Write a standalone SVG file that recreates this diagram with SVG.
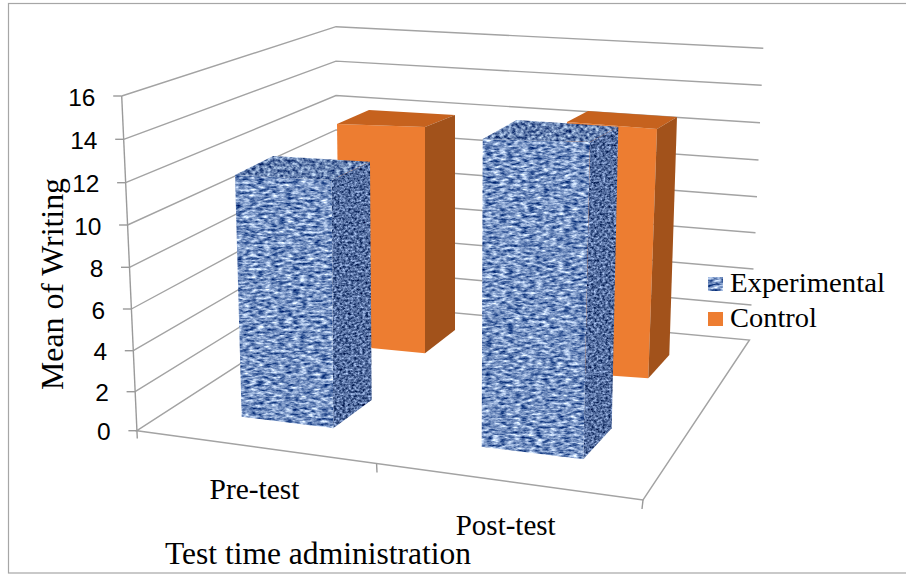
<svg xmlns="http://www.w3.org/2000/svg" width="906" height="575" viewBox="0 0 906 575">
<defs>
<style>
.grid{fill:none;stroke:#a3a3a3;stroke-width:1.4}
.ax{fill:none;stroke:#9a9a9a;stroke-width:1.4}
.num{font-family:"Liberation Sans",Arial,sans-serif;font-size:24.5px;fill:#000;text-anchor:end}
.ser{font-family:"Liberation Serif","Times New Roman",serif;fill:#000}
.oF{fill:#ED7D31}
.oT{fill:#C6621E}
.oS{fill:#A2521B}
.bF{fill:#6A88C0;filter:url(#denimF)}
.bT{fill:#5C7AB5;filter:url(#denimT)}
.bS{fill:#4A68A5;filter:url(#denimS)}
</style>
<filter id="denimF" color-interpolation-filters="sRGB">
<feTurbulence type="fractalNoise" baseFrequency="0.14 0.38" numOctaves="3" seed="4" result="n"/>
<feColorMatrix in="n" type="matrix" values="1.47 0 0 0 -0.265  1.3225 0 0 0 -0.083  0.98 0 0 0 0.275  0 0 0 0 1" result="c"/>
<feComposite in="c" in2="SourceGraphic" operator="in"/>
</filter>
<filter id="denimT" color-interpolation-filters="sRGB">
<feTurbulence type="fractalNoise" baseFrequency="0.25 0.3" numOctaves="3" seed="7" result="n"/>
<feColorMatrix in="n" type="matrix" values="1.3 0 0 0 -0.25  1.25 0 0 0 -0.12  1.0 0 0 0 0.19  0 0 0 0 1" result="c"/>
<feComposite in="c" in2="SourceGraphic" operator="in"/>
</filter>
<filter id="denimS" color-interpolation-filters="sRGB">
<feTurbulence type="fractalNoise" baseFrequency="0.35 0.45" numOctaves="3" seed="9" result="n"/>
<feColorMatrix in="n" type="matrix" values="1.1 0 0 0 -0.22  1.1 0 0 0 -0.12  1.05 0 0 0 0.1  0 0 0 0 1" result="c"/>
<feComposite in="c" in2="SourceGraphic" operator="in"/>
</filter>
</defs>
<rect width="906" height="575" fill="#fff"/>
<g id="frame"><rect x="8.5" y="3.5" width="905" height="569.5" fill="none" stroke="#a6a6a6" stroke-width="1.2"/></g>

<g id="gridlines" class="grid">
<polyline points="121.7,96 336,26.7 763.3,48.3"/>
<polyline points="123.7,139.3 336,61.1 761.7,85.2"/>
<polyline points="125.6,182.7 336,95.5 760,122.7"/>
<polyline points="127.6,225 336,129.9 758.5,160"/>
<polyline points="129.5,267.3 336,164.3 757,196.7"/>
<polyline points="131.4,309 336,198.7 755.5,232.7"/>
<polyline points="133.3,350.7 336,233.1 753.5,269"/>
<polyline points="135.1,391.7 336,267.5 751.5,305"/>
<polygon id="floor" points="136.9,430.7 336,301.9 749.5,340 643,500"/>
</g>

<g id="axes" class="ax">
<line x1="121.7" y1="96" x2="137.3" y2="438.5"/>
<line x1="113.2" y1="96" x2="121.7" y2="96"/>
<line x1="115.2" y1="139.3" x2="123.7" y2="139.3"/>
<line x1="117.1" y1="182.7" x2="125.6" y2="182.7"/>
<line x1="119.1" y1="225" x2="127.6" y2="225"/>
<line x1="121" y1="267.3" x2="129.5" y2="267.3"/>
<line x1="122.9" y1="309" x2="131.4" y2="309"/>
<line x1="124.8" y1="350.7" x2="133.3" y2="350.7"/>
<line x1="126.6" y1="391.7" x2="135.1" y2="391.7"/>
<line x1="128.4" y1="430.7" x2="136.9" y2="430.7"/>
<line x1="376.6" y1="463.5" x2="377" y2="472.5"/>
<line x1="643" y1="500" x2="642" y2="509"/>
</g>

<g id="y-labels" class="num">
<text x="95.5" y="105.5">16</text>
<text x="97.5" y="148.8">14</text>
<text x="99.4" y="192.2">12</text>
<text x="101.4" y="234.5">10</text>
<text x="103.3" y="276.8">8</text>
<text x="105.2" y="318.5">6</text>
<text x="107.1" y="360.2">4</text>
<text x="108.9" y="401.2">2</text>
<text x="110.7" y="440.2">0</text>
</g>

<g id="bar-control-pre">
<polygon class="oF" points="337,124 425,127 425,353.3 340,345"/>
<polygon class="oT" points="337,124 369,110 455,115 425,127"/>
<polygon class="oS" points="425,127 455,115 455,330 425,353.3"/>
</g>
<g id="bar-control-post">
<polygon class="oF" points="567,122 657,129 648.3,378.3 560,372"/>
<polygon class="oT" points="567,122 588,111 677,117 657,129"/>
<polygon class="oS" points="657,129 677,117 669.3,355 648.3,378.3"/>
</g>
<g id="bar-experimental-pre">
<polygon class="bS" points="331.7,180 370,161.7 371.7,400 333.3,428.3"/>
<polygon class="bF" points="235,175 331.7,180 333.3,428.3 241.7,416.7"/>
<polygon class="bT" points="235,175 273.3,156 370,161.7 331.7,180"/>
</g>
<g id="bar-experimental-post">
<polygon class="bS" points="590,142 618.3,126.7 611.7,428.3 583.3,459.3"/>
<polygon class="bF" points="482.7,139 590,142 583.3,459.3 481.7,446.7"/>
<polygon class="bT" points="482.7,139 516.7,120 618.3,126.7 590,142"/>
</g>

<g id="legend">
<rect class="bF" x="708" y="277" width="15" height="14"/>
<text class="ser" font-family="'Liberation Serif','Times New Roman',serif" x="730" y="291.5" font-size="28" textLength="155" lengthAdjust="spacingAndGlyphs">Experimental</text>
<rect class="oF" x="708" y="312" width="15" height="14"/>
<text class="ser" font-family="'Liberation Serif','Times New Roman',serif" x="730" y="326.5" font-size="28" textLength="87" lengthAdjust="spacingAndGlyphs">Control</text>
</g>

<g id="labels" class="ser" font-family="'Liberation Serif','Times New Roman',serif">
<text x="209.5" y="499" font-size="29.5" textLength="90" lengthAdjust="spacingAndGlyphs">Pre-test</text>
<text x="455.7" y="535" font-size="29.5" textLength="100" lengthAdjust="spacingAndGlyphs">Post-test</text>
<text x="165" y="563.5" font-size="31" textLength="306" lengthAdjust="spacingAndGlyphs">Test time administration</text>
<text transform="translate(63,390) rotate(-90)" font-size="31.5" textLength="212" lengthAdjust="spacingAndGlyphs">Mean of Writing</text>
</g>
</svg>
